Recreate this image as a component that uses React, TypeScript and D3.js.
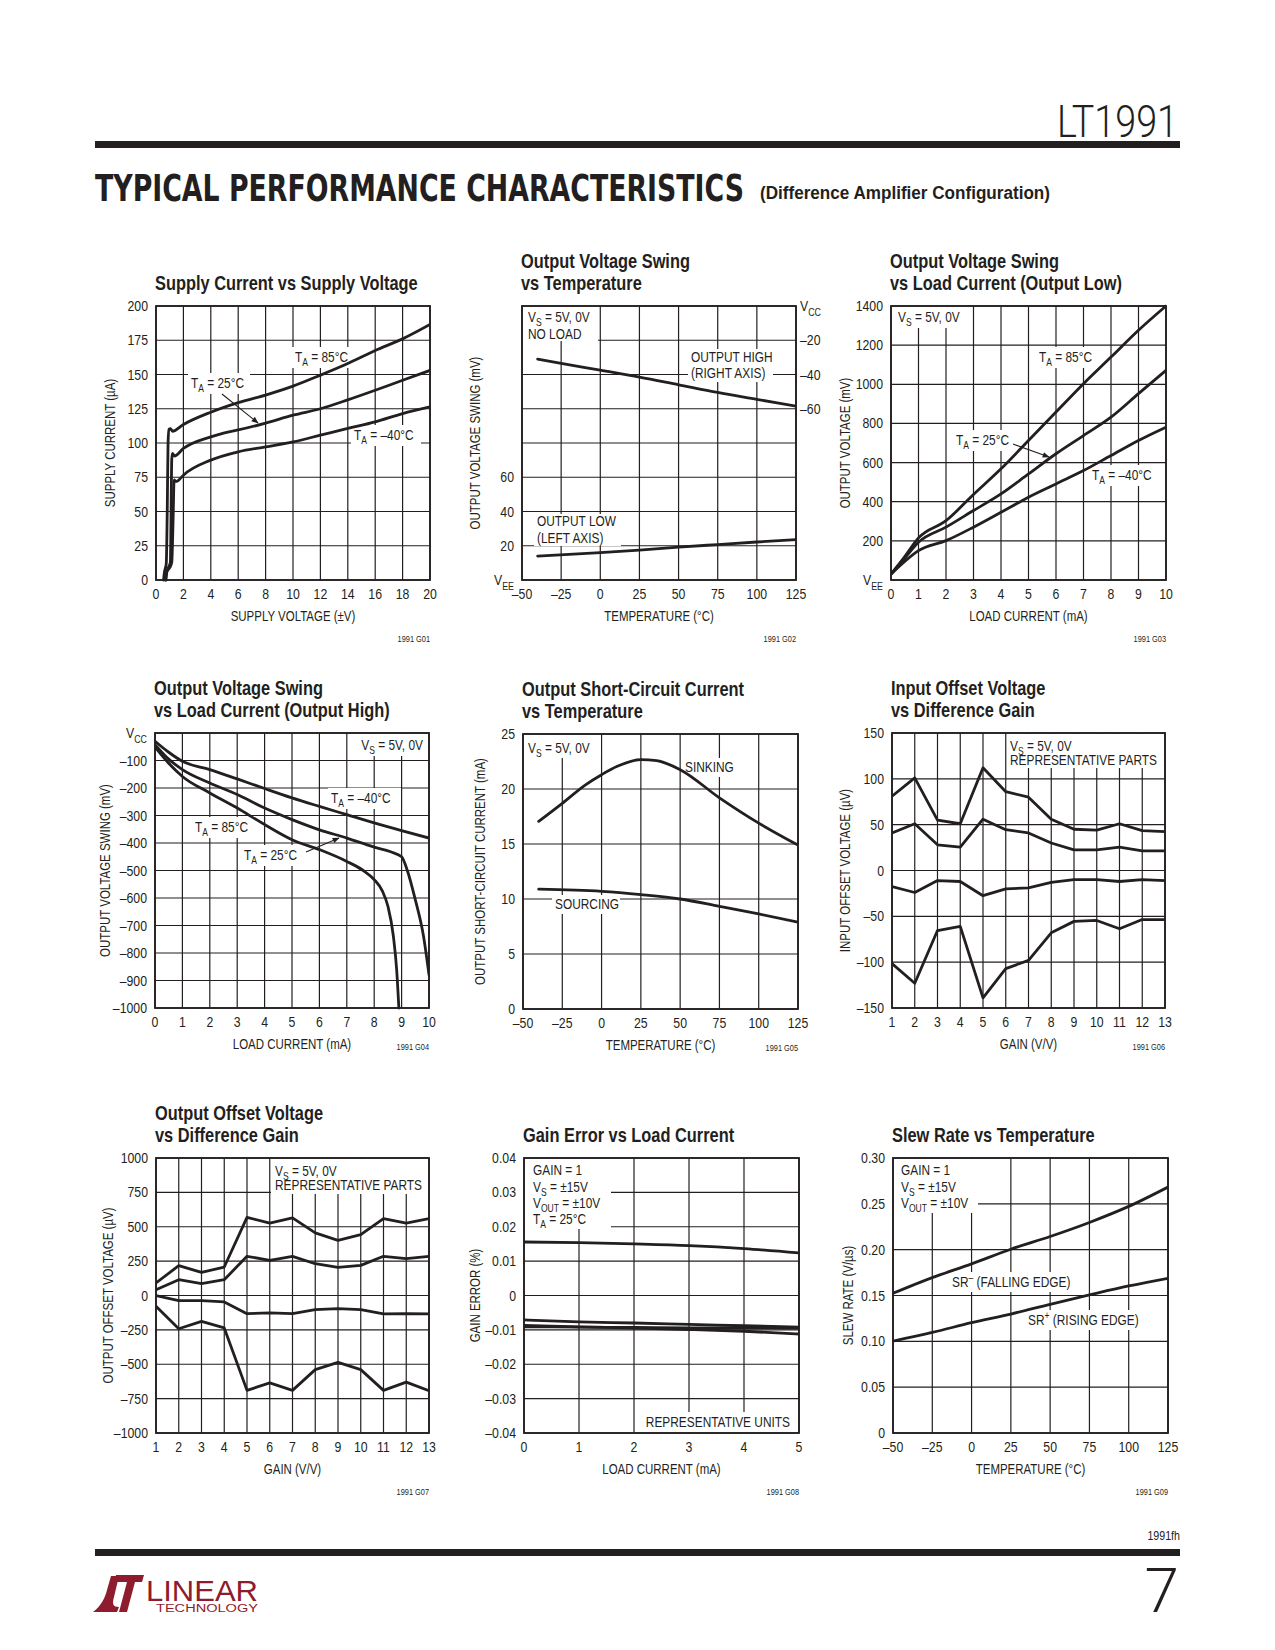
import React from 'react';
import * as d3 from 'd3';

const FONT = "'Liberation Sans', Arial, Helvetica, sans-serif";
const SX = 0.82; // horizontal condensing, emulating Helvetica Condensed
const INK = '#231f20';
const LOGO_RED = '#8e1b2e';

type Pt = [number, number];

// ---------- G01 Supply current vs supply voltage ----------
const G01_X_TICKS = [0, 2, 4, 6, 8, 10, 12, 14, 16, 18, 20];
const G01_Y_TICKS = [0, 25, 50, 75, 100, 125, 150, 175, 200];
const G01_T85: Pt[] = [[0.55, 0], [0.62, 6], [0.75, 12], [0.82, 50], [0.88, 100], [0.95, 110], [1.05, 110.5], [1.2, 108.5], [2, 113.5], [4, 122.5], [6, 129.5], [8, 135], [10, 141.5], [12, 149.5], [14, 158], [16, 167.5], [18, 176], [20, 186.5]];
const G01_T25: Pt[] = [[0.7, 0], [0.78, 6], [0.95, 10], [1.05, 13], [1.1, 50], [1.15, 88], [1.2, 92.5], [1.35, 90.5], [2, 96], [4, 104.5], [5, 107.4], [6, 109.5], [8, 114.5], [10, 120.3], [12, 125], [14, 131.5], [16, 138.5], [18, 145.8], [20, 153]];
const G01_TM40: Pt[] = [[0.72, 0], [0.8, 6], [1.0, 9], [1.15, 13], [1.25, 45], [1.32, 73], [1.45, 72], [1.6, 72.5], [2, 76.5], [4, 87.5], [6, 93.6], [8, 97.2], [10, 100.8], [12, 105.7], [14, 110.6], [16, 115.4], [18, 121.5], [20, 126.4]];

// ---------- G02 Output swing vs temperature ----------
const TEMP_TICKS = [-50, -25, 0, 25, 50, 75, 100, 125];
const TEMP_LABELS = ['–50', '–25', '0', '25', '50', '75', '100', '125'];
const G02_Y_TICKS = [0, 20, 40, 60, 80, 100, 120, 140, 160];
const G02_Y_LABELS = ['V_{EE}', '20', '40', '60', '', '', '', '', ''];
const G02_R_TICKS = [-160, -140, -120, -100, -80, -60, -40, -20, 0];
const G02_R_LABELS = ['', '', '', '', '', '–60', '–40', '–20', 'V_{CC}'];
const G02_HIGH: Pt[] = [[-40, -31], [-25, -33.5], [0, -37.5], [25, -41.5], [50, -46], [75, -50.5], [100, -54.5], [125, -58.5]];
const G02_LOW: Pt[] = [[-40, 14], [0, 16], [25, 17.5], [50, 19.2], [75, 20.7], [100, 22.2], [125, 23.6]];

// ---------- G03 Output swing vs load current (low) ----------
const LOAD10_TICKS = [0, 1, 2, 3, 4, 5, 6, 7, 8, 9, 10];
const G03_Y_TICKS = [0, 200, 400, 600, 800, 1000, 1200, 1400];
const G03_Y_LABELS = ['V_{EE}', '200', '400', '600', '800', '1000', '1200', '1400'];
const G03_T85: Pt[] = [[0, 30], [0.5, 120], [1, 215], [2, 303], [3, 437], [4, 568], [5, 713], [6, 858], [7, 1003], [8, 1139], [9, 1276], [10, 1400]];
const G03_T25: Pt[] = [[0, 30], [0.5, 112], [1, 193], [2, 270], [3, 355], [4, 440], [5, 542], [6, 645], [7, 738], [8, 832], [9, 952], [10, 1071]];
const G03_TM40: Pt[] = [[0, 30], [0.5, 95], [1, 150], [2, 201], [3, 270], [4, 346], [5, 423], [6, 491], [7, 559], [8, 636], [9, 713], [10, 781]];

// ---------- G04 Output swing vs load current (high) ----------
const G04_Y_TICKS = [-1000, -900, -800, -700, -600, -500, -400, -300, -200, -100, 0];
const G04_Y_LABELS = ['–1000', '–900', '–800', '–700', '–600', '–500', '–400', '–300', '–200', '–100', 'V_{CC}'];
const G04_TM40: Pt[] = [[0, -30], [0.5, -70], [1, -103], [2, -133], [3, -167], [4, -202], [5, -236], [6, -267], [7, -297], [8, -327], [9, -355], [10, -382]];
const G04_T25: Pt[] = [[0, -42], [0.5, -95], [1, -133], [2, -182], [3, -224], [4, -273], [5, -315], [6, -352], [7, -382], [8, -415], [8.6, -432], [9, -450], [9.2, -497], [9.5, -606], [9.8, -739], [10, -879]];
const G04_T85: Pt[] = [[0, -51], [0.5, -110], [1, -158], [2, -218], [3, -273], [4, -333], [5, -388], [6, -424], [7, -467], [7.6, -500], [8, -533], [8.3, -575], [8.5, -630], [8.7, -739], [8.82, -861], [8.9, -1000]];

// ---------- G05 Short-circuit current ----------
const G05_Y_TICKS = [0, 5, 10, 15, 20, 25];
const G05_SINK: Pt[] = [[-40, 17.06], [-25, 18.7], [-10, 20.4], [0, 21.3], [10, 22.06], [25, 22.67], [35, 22.58], [50, 21.76], [75, 19.2], [100, 16.9], [125, 14.9]];
const G05_SOURCE: Pt[] = [[-40, 10.9], [0, 10.7], [25, 10.4], [50, 10.0], [75, 9.33], [100, 8.64], [125, 7.9]];

// ---------- G06 / G07 offset vs gain ----------
const GAINS = [1, 2, 3, 4, 5, 6, 7, 8, 9, 10, 11, 12, 13];
const G06_Y_TICKS = [-150, -100, -50, 0, 50, 100, 150];
const G06_Y_LABELS = ['–150', '–100', '–50', '0', '50', '100', '150'];
const G06_PART_A = [81, 101, 55, 51, 112, 86, 80, 56, 45, 44, 51, 43.5, 42.5];
const G06_PART_B = [41, 51, 28, 25.5, 56, 44.5, 41, 30, 22.5, 22.5, 25.5, 21.5, 21.5];
const G06_PART_C = [-17.5, -24, -11, -12, -27.5, -20, -19, -13, -10, -10, -12, -10, -11];
const G06_PART_D = [-101.5, -123, -65.5, -61, -139, -107, -98, -68, -55.5, -54.5, -63.5, -53.5, -53.5];
const G07_Y_TICKS = [-1000, -750, -500, -250, 0, 250, 500, 750, 1000];
const G07_Y_LABELS = ['–1000', '–750', '–500', '–250', '0', '250', '500', '750', '1000'];
const G07_PART_A = [91, 217, 168, 207, 568, 527, 564, 455, 401, 442, 559, 527, 559];
const G07_PART_B = [42, 115, 86, 115, 285, 256, 285, 231, 205, 219, 285, 268, 285];
const G07_PART_C = [-1, -37, -37, -47, -132, -127, -132, -103, -96, -103, -134, -132, -134];
const G07_PART_D = [-79, -242, -188, -236, -690, -636, -690, -539, -486, -539, -690, -630, -692];

// ---------- G08 Gain error ----------
const LOAD5 = [0, 1, 2, 3, 4, 5];
const G08_Y_TICKS = [-0.04, -0.03, -0.02, -0.01, 0, 0.01, 0.02, 0.03, 0.04];
const G08_Y_LABELS = ['–0.04', '–0.03', '–0.02', '–0.01', '0', '0.01', '0.02', '0.03', '0.04'];
const G08_UNIT_1 = [0.01557, 0.01537, 0.0150, 0.0145, 0.01363, 0.01237];
const G08_UNIT_2 = [-0.0071, -0.0077, -0.0080, -0.0084, -0.0088, -0.0092];
const G08_UNIT_3 = [-0.0091, -0.0092, -0.0093, -0.0094, -0.0094, -0.0095];
const G08_UNIT_4 = [-0.0087, -0.0091, -0.0095, -0.0099, -0.0104, -0.0112];

// ---------- G09 Slew rate ----------
const G09_Y_TICKS = [0, 0.05, 0.1, 0.15, 0.2, 0.25, 0.3];
const G09_Y_LABELS = ['0', '0.05', '0.10', '0.15', '0.20', '0.25', '0.30'];
const G09_SR_FALL = [0.1524, 0.1695, 0.1845, 0.2005, 0.2144, 0.2297, 0.2472, 0.2683];
const G09_SR_RISE = [0.1003, 0.1097, 0.1203, 0.1298, 0.1404, 0.1506, 0.1604, 0.1688];

const zip = (xs: number[], ys: number[]): Pt[] => xs.map((v, i) => [v, ys[i]]);

interface Box { x: number; y: number; w: number; h: number }
interface Ann { x: number; y: number; text: string; anchor?: 'start' | 'end' | 'middle' }
interface Arrow { x1: number; y1: number; x2: number; y2: number }
interface Series { pts: Pt[]; right?: boolean }
interface ChartCfg {
  id: string;
  plot: Box;
  xDomain: [number, number]; xTicks: number[]; xLabels: string[];
  yDomain: [number, number]; yTicks: number[]; yLabels: string[];
  right?: { domain: [number, number]; ticks: number[]; labels: string[] };
  series: Series[];
  smooth: boolean;
  title: string[]; xTitle: string; yTitle: string; yTitleDx: number;
  code: string; codeInline?: boolean;
  boxes: Box[]; anns: Ann[]; arrows: Arrow[];
}

function parseRich(s: string): { t: string; k: 'n' | 'sub' | 'sup' }[] {
  const out: { t: string; k: 'n' | 'sub' | 'sup' }[] = [];
  const re = /([_^])\{([^}]*)\}/g;
  let last = 0;
  let m: RegExpExecArray | null;
  while ((m = re.exec(s))) {
    if (m.index > last) out.push({ t: s.slice(last, m.index), k: 'n' });
    out.push({ t: m[2], k: m[1] === '_' ? 'sub' : 'sup' });
    last = re.lastIndex;
  }
  if (last < s.length) out.push({ t: s.slice(last), k: 'n' });
  return out;
}

function Rich({ x, y, text, anchor = 'start', size = 14, weight = 'normal', rotate = 0 }: { x: number; y: number; text: string; anchor?: string; size?: number; weight?: string; rotate?: number }) {
  const parts = parseRich(text);
  let cur = 0;
  return (
    <text transform={`translate(${x},${y})${rotate ? ` rotate(${rotate})` : ''} scale(${SX},1)`} x={0} y={0} fontSize={size} fontWeight={weight} textAnchor={anchor} fill={INK}>
      {parts.map((p, i) => {
        const target = p.k === 'sub' ? size * 0.3 : p.k === 'sup' ? -size * 0.4 : 0;
        const dy = target - cur;
        cur = target;
        return (
          <tspan key={i} dy={dy} fontSize={p.k === 'n' ? size : size * 0.72}>{p.t}</tspan>
        );
      })}
    </text>
  );
}

function Chart({ c }: { c: ChartCfg }) {
  const p = c.plot;
  const x = d3.scaleLinear().domain(c.xDomain).range([p.x, p.x + p.w]);
  const y = d3.scaleLinear().domain(c.yDomain).range([p.y + p.h, p.y]);
  const yr = c.right ? d3.scaleLinear().domain(c.right.domain).range([p.y + p.h, p.y]) : y;
  const mk = (s: Series) =>
    d3.line<Pt>()
      .x((d) => x(d[0]))
      .y((d) => (s.right ? yr : y)(d[1]))
      .curve(c.smooth ? d3.curveMonotoneX : d3.curveLinear)(s.pts) || '';
  const bottom = p.y + p.h;
  return (
    <g>
      <defs>
        <clipPath id={`clip-${c.id}`}>
          <rect x={p.x} y={p.y - 2} width={p.w} height={p.h + 4} />
        </clipPath>
      </defs>
      {c.title.map((t, i) => (
        <Rich key={'t' + i} x={p.x - 1} y={p.y - 16 - (c.title.length - 1 - i) * 22} text={t} size={20} weight="bold" />
      ))}
      {c.xTicks.map((t, i) => (
        <line key={'gx' + i} x1={x(t)} x2={x(t)} y1={p.y} y2={bottom} stroke={INK} strokeWidth={1.2} />
      ))}
      {c.yTicks.map((t, i) => (
        <line key={'gy' + i} x1={p.x} x2={p.x + p.w} y1={y(t)} y2={y(t)} stroke={INK} strokeWidth={1.2} />
      ))}
      {c.boxes.map((b, i) => (
        <rect key={'b' + i} x={b.x} y={b.y} width={b.w} height={b.h} fill="#fff" />
      ))}
      <rect x={p.x} y={p.y} width={p.w} height={p.h} fill="none" stroke={INK} strokeWidth={1.8} />
      <g clipPath={`url(#clip-${c.id})`}>
        {c.series.map((s, i) => (
          <path key={'s' + i} d={mk(s)} fill="none" stroke={INK} strokeWidth={2.8} strokeLinejoin="round" strokeLinecap="round" />
        ))}
      </g>
      {c.yTicks.map((t, i) =>
        c.yLabels[i] ? <Rich key={'yl' + i} x={p.x - 8} y={y(t) + 5} text={c.yLabels[i]} anchor="end" size={15} /> : null
      )}
      {c.right && c.right.ticks.map((t, i) =>
        c.right!.labels[i] ? <Rich key={'yr' + i} x={p.x + p.w + 4} y={yr(t) + 5} text={c.right!.labels[i]} anchor="start" size={15} /> : null
      )}
      {c.xTicks.map((t, i) => (
        <Rich key={'xl' + i} x={x(t)} y={bottom + 19} text={c.xLabels[i]} anchor="middle" size={15} />
      ))}
      <Rich x={p.x + p.w / 2} y={bottom + 41} text={c.xTitle} anchor="middle" size={14} />
      <Rich x={p.x + c.yTitleDx + 5} y={p.y + p.h / 2} text={c.yTitle} anchor="middle" size={14} rotate={-90} />
      <Rich x={p.x + p.w} y={c.codeInline ? bottom + 42 : bottom + 62} text={c.code} anchor="end" size={9} />
      {c.anns.map((a, i) => (
        <Rich key={'a' + i} x={a.x} y={a.y} text={a.text} anchor={a.anchor || 'start'} size={14.5} />
      ))}
      {c.arrows.map((a, i) => (
        <line key={'ar' + i} x1={a.x1} y1={a.y1} x2={a.x2} y2={a.y2} stroke={INK} strokeWidth={1.1} markerEnd="url(#arrowhead)" />
      ))}
    </g>
  );
}

const CHARTS: ChartCfg[] = [
  {
    id: 'g01', plot: { x: 156, y: 306, w: 274, h: 274 },
    xDomain: [0, 20], xTicks: G01_X_TICKS, xLabels: G01_X_TICKS.map(String),
    yDomain: [0, 200], yTicks: G01_Y_TICKS, yLabels: G01_Y_TICKS.map(String),
    series: [{ pts: G01_T85 }, { pts: G01_T25 }, { pts: G01_TM40 }], smooth: true,
    title: ['Supply Current vs Supply Voltage'], xTitle: 'SUPPLY VOLTAGE (±V)', yTitle: 'SUPPLY CURRENT (µA)', yTitleDx: -46,
    code: '1991 G01',
    boxes: [{ x: 292, y: 347, w: 64, h: 21 }, { x: 188, y: 373, w: 62, h: 21 }, { x: 351, y: 425, w: 70, h: 21 }],
    anns: [{ x: 295, y: 362, text: 'T_{A} = 85°C' }, { x: 191, y: 388, text: 'T_{A} = 25°C' }, { x: 354, y: 440, text: 'T_{A} = –40°C' }],
    arrows: [{ x1: 222, y1: 394, x2: 258, y2: 423 }],
  },
  {
    id: 'g02', plot: { x: 522, y: 306, w: 274, h: 274 },
    xDomain: [-50, 125], xTicks: TEMP_TICKS, xLabels: TEMP_LABELS,
    yDomain: [0, 160], yTicks: G02_Y_TICKS, yLabels: G02_Y_LABELS,
    right: { domain: [-160, 0], ticks: G02_R_TICKS, labels: G02_R_LABELS },
    series: [{ pts: G02_HIGH, right: true }, { pts: G02_LOW }], smooth: true,
    title: ['Output Voltage Swing', 'vs Temperature'], xTitle: 'TEMPERATURE (°C)', yTitle: 'OUTPUT VOLTAGE SWING (mV)', yTitleDx: -47,
    code: '1991 G02',
    boxes: [{ x: 523, y: 307, w: 75, h: 34 }, { x: 688, y: 349, w: 85, h: 33 }, { x: 534, y: 514, w: 87, h: 32 }],
    anns: [{ x: 528, y: 322, text: 'V_{S} = 5V, 0V' }, { x: 528, y: 339, text: 'NO LOAD' }, { x: 691, y: 362, text: 'OUTPUT HIGH' }, { x: 691, y: 378, text: '(RIGHT AXIS)' }, { x: 537, y: 526, text: 'OUTPUT LOW' }, { x: 537, y: 543, text: '(LEFT AXIS)' }],
    arrows: [],
  },
  {
    id: 'g03', plot: { x: 891, y: 306, w: 275, h: 274 },
    xDomain: [0, 10], xTicks: LOAD10_TICKS, xLabels: LOAD10_TICKS.map(String),
    yDomain: [0, 1400], yTicks: G03_Y_TICKS, yLabels: G03_Y_LABELS,
    series: [{ pts: G03_T85 }, { pts: G03_T25 }, { pts: G03_TM40 }], smooth: true,
    title: ['Output Voltage Swing', 'vs Load Current (Output Low)'], xTitle: 'LOAD CURRENT (mA)', yTitle: 'OUTPUT VOLTAGE (mV)', yTitleDx: -46,
    code: '1991 G03',
    boxes: [{ x: 892, y: 307, w: 75, h: 21 }, { x: 1036, y: 347, w: 62, h: 21 }, { x: 953, y: 430, w: 59, h: 21 }, { x: 1089, y: 465, w: 72, h: 21 }],
    anns: [{ x: 898, y: 322, text: 'V_{S} = 5V, 0V' }, { x: 1039, y: 362, text: 'T_{A} = 85°C' }, { x: 956, y: 445, text: 'T_{A} = 25°C' }, { x: 1092, y: 480, text: 'T_{A} = –40°C' }],
    arrows: [{ x1: 1013, y1: 444, x2: 1049, y2: 457 }],
  },
  {
    id: 'g04', plot: { x: 155, y: 733, w: 274, h: 275 },
    xDomain: [0, 10], xTicks: LOAD10_TICKS, xLabels: LOAD10_TICKS.map(String),
    yDomain: [-1000, 0], yTicks: G04_Y_TICKS, yLabels: G04_Y_LABELS,
    series: [{ pts: G04_TM40 }, { pts: G04_T25 }, { pts: G04_T85 }], smooth: true,
    title: ['Output Voltage Swing', 'vs Load Current (Output High)'], xTitle: 'LOAD CURRENT (mA)', yTitle: 'OUTPUT VOLTAGE SWING (mV)', yTitleDx: -50,
    code: '1991 G04', codeInline: true,
    boxes: [{ x: 350, y: 734, w: 78, h: 22 }, { x: 328, y: 788, w: 73, h: 21 }, { x: 192, y: 817, w: 61, h: 21 }, { x: 241, y: 845, w: 62, h: 21 }],
    anns: [{ x: 423, y: 750, text: 'V_{S} = 5V, 0V', anchor: 'end' }, { x: 331, y: 803, text: 'T_{A} = –40°C' }, { x: 195, y: 832, text: 'T_{A} = 85°C' }, { x: 244, y: 860, text: 'T_{A} = 25°C' }],
    arrows: [{ x1: 306, y1: 852, x2: 339, y2: 838 }],
  },
  {
    id: 'g05', plot: { x: 523, y: 734, w: 275, h: 275 },
    xDomain: [-50, 125], xTicks: TEMP_TICKS, xLabels: TEMP_LABELS,
    yDomain: [0, 25], yTicks: G05_Y_TICKS, yLabels: G05_Y_TICKS.map(String),
    series: [{ pts: G05_SINK }, { pts: G05_SOURCE }], smooth: true,
    title: ['Output Short-Circuit Current', 'vs Temperature'], xTitle: 'TEMPERATURE (°C)', yTitle: 'OUTPUT SHORT-CIRCUIT CURRENT (mA)', yTitleDx: -43,
    code: '1991 G05', codeInline: true,
    boxes: [{ x: 524, y: 735, w: 77, h: 23 }, { x: 682, y: 758, w: 56, h: 19 }, { x: 552, y: 895, w: 68, h: 19 }],
    anns: [{ x: 528, y: 753, text: 'V_{S} = 5V, 0V' }, { x: 685, y: 772, text: 'SINKING' }, { x: 555, y: 909, text: 'SOURCING' }],
    arrows: [],
  },
  {
    id: 'g06', plot: { x: 892, y: 733, w: 273, h: 275 },
    xDomain: [1, 13], xTicks: GAINS, xLabels: GAINS.map(String),
    yDomain: [-150, 150], yTicks: G06_Y_TICKS, yLabels: G06_Y_LABELS,
    series: [{ pts: zip(GAINS, G06_PART_A) }, { pts: zip(GAINS, G06_PART_B) }, { pts: zip(GAINS, G06_PART_C) }, { pts: zip(GAINS, G06_PART_D) }], smooth: false,
    title: ['Input Offset Voltage', 'vs Difference Gain'], xTitle: 'GAIN (V/V)', yTitle: 'INPUT OFFSET VOLTAGE (µV)', yTitleDx: -47,
    code: '1991 G06', codeInline: true,
    boxes: [{ x: 1007, y: 734, w: 157, h: 34 }],
    anns: [{ x: 1010, y: 751, text: 'V_{S} = 5V, 0V' }, { x: 1010, y: 765, text: 'REPRESENTATIVE PARTS' }],
    arrows: [],
  },
  {
    id: 'g07', plot: { x: 156, y: 1158, w: 273, h: 275 },
    xDomain: [1, 13], xTicks: GAINS, xLabels: GAINS.map(String),
    yDomain: [-1000, 1000], yTicks: G07_Y_TICKS, yLabels: G07_Y_LABELS,
    series: [{ pts: zip(GAINS, G07_PART_A) }, { pts: zip(GAINS, G07_PART_B) }, { pts: zip(GAINS, G07_PART_C) }, { pts: zip(GAINS, G07_PART_D) }], smooth: false,
    title: ['Output Offset Voltage', 'vs Difference Gain'], xTitle: 'GAIN (V/V)', yTitle: 'OUTPUT OFFSET VOLTAGE (µV)', yTitleDx: -48,
    code: '1991 G07',
    boxes: [{ x: 271, y: 1159, w: 157, h: 35 }],
    anns: [{ x: 275, y: 1176, text: 'V_{S} = 5V, 0V' }, { x: 275, y: 1190, text: 'REPRESENTATIVE PARTS' }],
    arrows: [],
  },
  {
    id: 'g08', plot: { x: 524, y: 1158, w: 275, h: 275 },
    xDomain: [0, 5], xTicks: LOAD5, xLabels: LOAD5.map(String),
    yDomain: [-0.04, 0.04], yTicks: G08_Y_TICKS, yLabels: G08_Y_LABELS,
    series: [{ pts: zip(LOAD5, G08_UNIT_1) }, { pts: zip(LOAD5, G08_UNIT_2) }, { pts: zip(LOAD5, G08_UNIT_3) }, { pts: zip(LOAD5, G08_UNIT_4) }], smooth: true,
    title: ['Gain Error vs Load Current'], xTitle: 'LOAD CURRENT (mA)', yTitle: 'GAIN ERROR (%)', yTitleDx: -49,
    code: '1991 G08',
    boxes: [{ x: 525, y: 1159, w: 86, h: 70 }, { x: 639, y: 1412, w: 159, h: 20 }],
    anns: [{ x: 533, y: 1175, text: 'GAIN = 1' }, { x: 533, y: 1192, text: 'V_{S} = ±15V' }, { x: 533, y: 1208, text: 'V_{OUT} = ±10V' }, { x: 533, y: 1224, text: 'T_{A} = 25°C' }, { x: 790, y: 1427, text: 'REPRESENTATIVE UNITS', anchor: 'end' }],
    arrows: [],
  },
  {
    id: 'g09', plot: { x: 893, y: 1158, w: 275, h: 275 },
    xDomain: [-50, 125], xTicks: TEMP_TICKS, xLabels: TEMP_LABELS,
    yDomain: [0, 0.3], yTicks: G09_Y_TICKS, yLabels: G09_Y_LABELS,
    series: [{ pts: zip(TEMP_TICKS, G09_SR_FALL) }, { pts: zip(TEMP_TICKS, G09_SR_RISE) }], smooth: true,
    title: ['Slew Rate vs Temperature'], xTitle: 'TEMPERATURE (°C)', yTitle: 'SLEW RATE (V/µs)', yTitleDx: -45,
    code: '1991 G09',
    boxes: [{ x: 894, y: 1159, w: 84, h: 54 }, { x: 949, y: 1272, w: 127, h: 20 }, { x: 1025, y: 1310, w: 121, h: 20 }],
    anns: [{ x: 901, y: 1175, text: 'GAIN = 1' }, { x: 901, y: 1192, text: 'V_{S} = ±15V' }, { x: 901, y: 1208, text: 'V_{OUT} = ±10V' }, { x: 952, y: 1287, text: 'SR^{–} (FALLING EDGE)' }, { x: 1028, y: 1325, text: 'SR^{+} (RISING EDGE)' }],
    arrows: [],
  },
];

export default function App() {
  return (
    <svg width={1275} height={1650} viewBox="0 0 1275 1650" style={{ position: 'absolute', left: 0, top: 0, background: '#fff' }} fontFamily={FONT}>
      <defs>
        <marker id="arrowhead" viewBox="0 0 10 10" refX="9" refY="5" markerWidth="9" markerHeight="7" orient="auto" markerUnits="userSpaceOnUse">
          <path d="M0,1 L10,5 L0,9 Z" fill={INK} />
        </marker>
      </defs>
      <rect x={0} y={0} width={1275} height={1650} fill="#fff" />
      <text x={1178} y={137} fontSize={45} fontFamily="Roboto, Lato, sans-serif" fontWeight={300} textAnchor="end" textLength={121} lengthAdjust="spacingAndGlyphs" fill={INK}>LT1991</text>
      <rect x={95} y={141} width={1085} height={7} fill={INK} />
      <text x={95} y={201} fontSize={37} fontFamily="'DejaVu Sans Condensed','DejaVu Sans',sans-serif" fontWeight="bold" textLength={649} lengthAdjust="spacingAndGlyphs" fill={INK}>TYPICAL PERFORMANCE CHARACTERISTICS</text>
      <text x={760} y={199} fontSize={18} fontWeight="bold" textLength={290} lengthAdjust="spacingAndGlyphs" fill={INK}>(Difference Amplifier Configuration)</text>
      {CHARTS.map((c) => <Chart key={c.id} c={c} />)}
      <Rich x={1180} y={1540} text="1991fh" anchor="end" size={13} />
      <rect x={95} y={1549} width={1085} height={7} fill={INK} />
      <text x={1179} y={1612} fontSize={62} fontFamily="Roboto, Lato, sans-serif" fontWeight={300} textAnchor="end" fill={INK}>7</text>
      <g fill={LOGO_RED}>
        <path d="M93,1612 C101,1606 105,1598 107,1590 L111,1576 L119,1576 L114,1597 C112,1604 113,1607 119,1607 L117,1612 Z" />
        <path d="M116,1575 L144,1575 L142,1582 L135,1582 L127,1612 L119,1612 L127,1582 L114,1582 Z" />
        <text x={146} y={1601} fontSize={30} textLength={112} lengthAdjust="spacingAndGlyphs">LINEAR</text>
        <text x={156} y={1612} fontSize={10} textLength={102} lengthAdjust="spacingAndGlyphs">TECHNOLOGY</text>
      </g>
    </svg>
  );
}
